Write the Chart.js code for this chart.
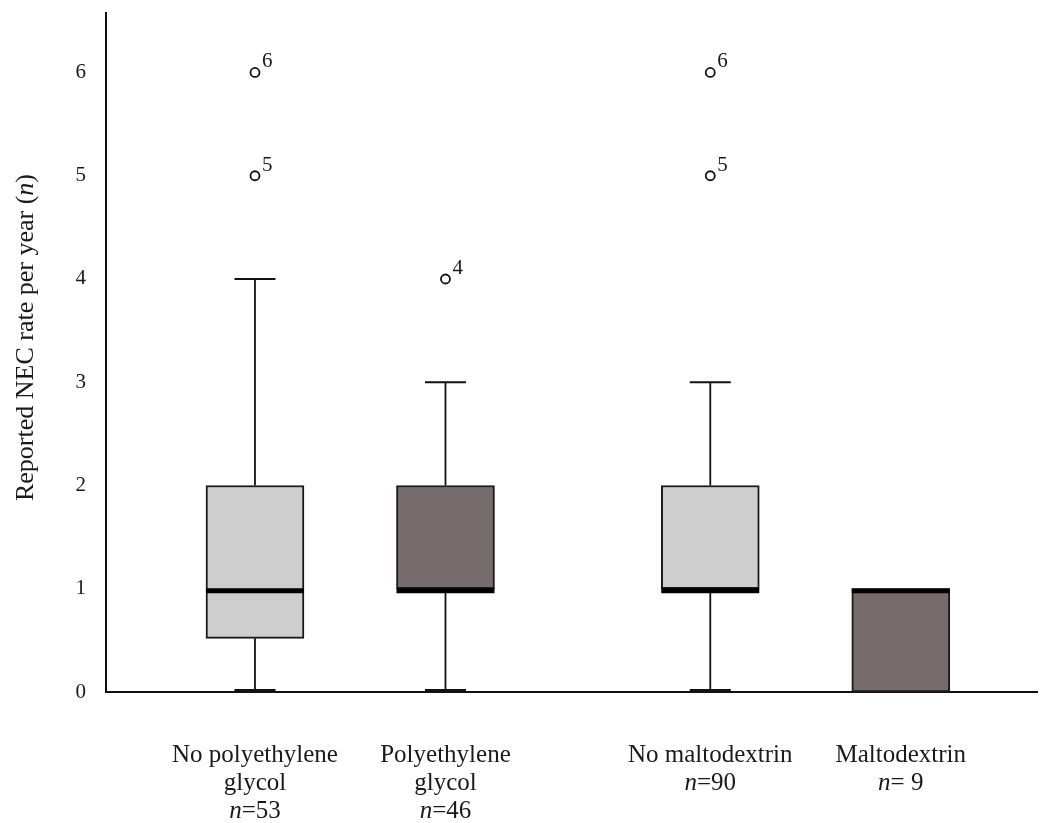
<!DOCTYPE html>
<html>
<head>
<meta charset="utf-8">
<script src="https://cdn.jsdelivr.net/npm/chart.js@4.4.1/dist/chart.umd.min.js"></script>
<style>
  html, body { margin: 0; background: #fff; }
  #wrap { width: 1046px; height: 823px; position: relative; }
</style>
</head>
<body>
<div id="wrap"><canvas id="c"></canvas></div>
<script>
"use strict";
// NEC rate per year by feed additive - box plots (SPSS style)
const groupLines = [["No polyethylene", "glycol"], ["Polyethylene", "glycol"], ["No maltodextrin"], ["Maltodextrin"]];
const groupN = ["=53", "=46", "=90", "= 9"];
const groupAt = [1, 2, 3.39, 4.39];   // slot of each group on the x axis (gap between the two comparisons)
const whiskLo = [0, 0, 0, 0];
const q1 = [0.52, 1, 1, 0];
const median = [1, 1, 1, 1];
const q3 = [2, 2, 2, 1];
const whiskHi = [4, 3, 3, 1];
const outGroup = [0, 0, 1, 2, 2];
const outValue = [6, 5, 4, 6, 5];
const outTag = ["6", "5", "4", "6", "5"];
const yTicks = [0, 1, 2, 3, 4, 5, 6];
const yTitle = [["Reported NEC rate per year (", false], ["n", true], [")", false]];

const SERIF = '"Liberation Serif", "Times New Roman", serif';
const BOX_FILL = ["#cecece", "#766c6d", "#cecece", "#766c6d"];
const INK = "#111";

function font(px, italic) { return (italic ? "italic " : "") + px + "px " + SERIF; }

// centred text made of plain/italic pieces
function mixed(ctx, segs, x, y, px) {
  let w = 0;
  segs.forEach(s => { ctx.font = font(px, s[1]); w += ctx.measureText(s[0]).width; });
  let cx = x - w / 2;
  ctx.textAlign = "left";
  segs.forEach(s => {
    ctx.font = font(px, s[1]);
    ctx.fillText(s[0], cx, y);
    cx += ctx.measureText(s[0]).width;
  });
}

const boxExtras = {
  id: "boxExtras",
  afterDatasetsDraw(chart) {
    const { ctx, scales: { x, y } } = chart;
    const half = 49, cap = 20.5;
    ctx.save();
    groupAt.forEach((g, i) => {
      const px = x.getPixelForValue(g);
      ctx.strokeStyle = INK;
      [[q3[i], whiskHi[i], 0], [q1[i], whiskLo[i], -1.5]].forEach(([from, to, nudge]) => {
        if (from === to) return;
        const ty = y.getPixelForValue(to);
        ctx.lineWidth = 1.8;
        ctx.beginPath();
        ctx.moveTo(px, y.getPixelForValue(from));
        ctx.lineTo(px, ty);
        ctx.stroke();
        // caps sitting on the axis get pushed up a touch so they stay visible
        ctx.lineWidth = nudge ? 3 : 1.8;
        ctx.beginPath();
        ctx.moveTo(px - cap, ty + nudge);
        ctx.lineTo(px + cap, ty + nudge);
        ctx.stroke();
      });
      // median
      ctx.strokeStyle = "#000";
      ctx.lineWidth = 5;
      const my = y.getPixelForValue(median[i]) + 2;
      ctx.beginPath();
      ctx.moveTo(px - half, my);
      ctx.lineTo(px + half, my);
      ctx.stroke();
    });
    // outlier tags
    ctx.fillStyle = "#1a1a1a";
    ctx.font = font(21, false);
    ctx.textAlign = "left";
    ctx.textBaseline = "alphabetic";
    outValue.forEach((v, k) => {
      ctx.fillText(outTag[k], x.getPixelForValue(groupAt[outGroup[k]]) + 7, y.getPixelForValue(v) - 5);
    });
    ctx.restore();
  },
  afterDraw(chart) {
    const { ctx, chartArea: a, scales: { x } } = chart;
    ctx.save();
    ctx.fillStyle = "#1a1a1a";
    ctx.textBaseline = "alphabetic";
    groupAt.forEach((g, i) => {
      const px = x.getPixelForValue(g);
      const rows = groupLines[i].map(t => [[t, false]]);
      rows.push([["n", true], [groupN[i], false]]);
      rows.forEach((r, j) => mixed(ctx, r, px, a.bottom + 70 + j * 28, 25));
    });
    // y axis title
    ctx.translate(26, (a.top + a.bottom) / 2 - 15);
    ctx.rotate(-Math.PI / 2);
    ctx.textBaseline = "middle";
    mixed(ctx, yTitle, 0, 0, 26);
    ctx.restore();
  }
};

function noPad(s) { s.paddingTop = 0; s.paddingBottom = 0; s.paddingLeft = 0; s.paddingRight = 0; }

new Chart(document.getElementById("c"), {
  type: "bar",
  data: {
    datasets: [
      {
        type: "bar",
        data: groupAt.map((g, i) => ({ x: g, y: [q1[i], q3[i]] })),
        backgroundColor: BOX_FILL,
        borderColor: "#1a1a1a",
        borderWidth: 2,
        borderSkipped: false,
        barThickness: 98
      },
      {
        type: "scatter",
        data: outValue.map((v, k) => ({ x: groupAt[outGroup[k]], y: v })),
        pointStyle: "circle",
        pointRadius: 4.5,
        pointBorderWidth: 1.8,
        pointBorderColor: INK,
        pointBackgroundColor: "#fff"
      }
    ]
  },
  options: {
    responsive: true,
    maintainAspectRatio: false,
    animation: false,
    layout: { padding: { top: 13, right: 9, left: 0, bottom: 0 } },
    plugins: { legend: { display: false }, tooltip: { enabled: false } },
    scales: {
      x: {
        type: "linear", min: 0.218, max: 5.105, offset: false,
        ticks: { display: false },
        grid: { display: false, drawTicks: false },
        border: { display: true, color: INK, width: 2 },
        afterFit: s => { s.height = 131; noPad(s); }
      },
      y: {
        min: 0, max: 6.576,
        afterBuildTicks: s => { s.ticks = yTicks.map(v => ({ value: v })); },
        ticks: { font: { family: SERIF, size: 21 }, color: "#1a1a1a", padding: 20 },
        grid: { display: false, drawTicks: false },
        border: { display: true, color: INK, width: 2 },
        afterFit: s => { s.width = 106; noPad(s); }
      }
    }
  },
  plugins: [boxExtras]
});
</script>
</body>
</html>
